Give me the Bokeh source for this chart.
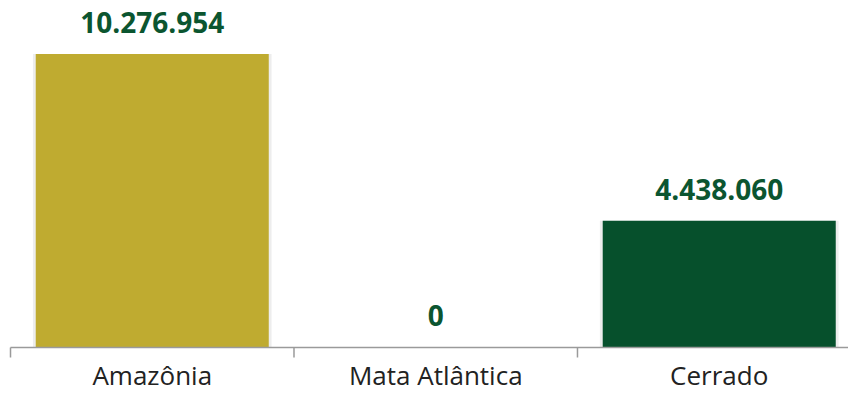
import math
from bokeh.plotting import figure
from bokeh.models import Range1d, ColumnDataSource, LabelSet
from bokeh.core.properties import value
from bokeh.embed import file_html
from bokeh.resources import INLINE

categories = ["Amazônia", "Mata Atlântica", "Cerrado"]
values = [10276954, 0, 4438060]
value_labels = ["10.276.954", "0", "4.438.060"]
bar_colors = ["#BFAB30", "#BFAB30", "#06502C"]

n = len(categories)
xs = [i + 0.5 for i in range(n)]
src = ColumnDataSource(dict(x=xs, top=values, lab=value_labels, color=bar_colors,
                            cat=categories, zero=[0] * n))
bounds = ColumnDataSource(dict(x=list(range(n + 1)), y=[0] * (n + 1)))

p = figure(width=848, height=393, output_backend="svg", toolbar_location=None,
           x_range=Range1d(-0.0353, 2.956), y_range=Range1d(-1610700, 12150000),
           min_border_left=0, min_border_right=0, min_border_top=0, min_border_bottom=0)
p.background_fill_color = "#FFFFFF"
p.border_fill_color = "#FFFFFF"
p.outline_line_color = None
p.grid.visible = False
p.axis.visible = False

# soft shadow behind bars
p.vbar(x="x", top="top", width=0.842, bottom=0, fill_color="#000000", fill_alpha=0.07,
       line_color=None, source=src)
p.vbar(x="x", top="top", width=0.822, bottom=0, fill_color="color", line_color=None, source=src)

# category axis: baseline and boundary ticks
p.segment(x0=0, y0=0, x1=n, y1=0, line_color="#9A9A9A", line_width=1.5)
p.ray(x="x", y="y", length=10, length_units="screen", angle=-math.pi / 2,
      line_color="#9A9A9A", line_width=1.5, source=bounds)

cat_labels = LabelSet(x="x", y="zero", text="cat", source=src, text_align="center",
                      text_baseline="alphabetic", y_offset=-38,
                      text_font=value("Open Sans"), text_font_size="26px",
                      text_color="#222222")
p.add_layout(cat_labels)

labels = LabelSet(x="x", y="top", text="lab", source=src, text_align="center",
                  text_baseline="alphabetic", y_offset=21,
                  text_font=value("Open Sans"), text_font_style="bold",
                  text_font_size="28px", text_color="#0B5530")
p.add_layout(labels)

open("out.html", "w").write(file_html(p, INLINE))
